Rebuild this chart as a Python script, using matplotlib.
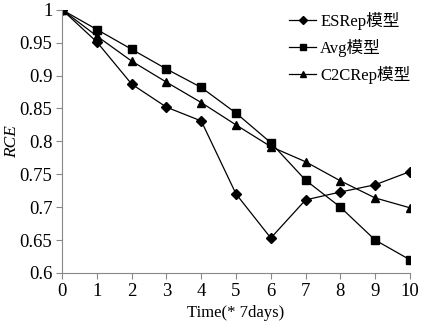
import matplotlib
matplotlib.use("Agg")
import matplotlib.pyplot as plt

plt.rcParams['font.family'] = ['Liberation Serif', 'Noto Sans CJK SC']

# data
weeks = [0, 1, 2, 3, 4, 5, 6, 7, 8, 9, 10]
esrep = [1.0, 0.951, 0.887, 0.852, 0.831, 0.720, 0.653, 0.711, 0.723, 0.734, 0.754]
avg = [1.0, 0.970, 0.940, 0.910, 0.882, 0.843, 0.798, 0.741, 0.700, 0.650, 0.620]
c2crep = [1.0, 0.960, 0.922, 0.890, 0.859, 0.825, 0.792, 0.769, 0.740, 0.714, 0.699]
names = ["ESRep模型", "Avg模型", "C2CRep模型"]

fig = plt.figure(figsize=(4.23, 3.28), dpi=100)
ax = fig.add_axes([0.147, 0.168, 0.822, 0.802])

ax.plot(weeks, esrep, color="black", lw=0.9, marker="D", ms=4.8, label=names[0])
ax.plot(weeks, avg, color="black", lw=0.9, marker="s", ms=5.5, label=names[1])
ax.plot(weeks, c2crep, color="black", lw=0.9, marker="^", ms=6, label=names[2])

ax.set_xlim(0, 10)
ax.set_ylim(0.6, 1.0)
ax.set_xticks(weeks)
ax.set_yticks([0.6, 0.65, 0.7, 0.75, 0.8, 0.85, 0.9, 0.95, 1.0])
ax.set_yticklabels(["0.6", "0.65", "0.7", "0.75", "0.8", "0.85", "0.9", "0.95", "1"])
for s in ["top", "right"]:
    ax.spines[s].set_visible(False)
for s in ["left", "bottom"]:
    ax.spines[s].set_color("#888888")
ax.tick_params(axis="both", direction="out", length=4, color="#888888",
               labelsize=13.5, pad=3)

ax.set_xlabel("Time(* 7days)", fontsize=12, labelpad=4)
ax.set_ylabel("RCE", fontsize=12.5, fontstyle="italic")
ax.yaxis.set_label_coords(-0.12, 0.5)

leg = ax.legend(loc="upper right", bbox_to_anchor=(1.045, 1.05), frameon=False,
                handlelength=1.6, handletextpad=0.25, labelspacing=0.55,
                prop={"size": 12})
for h in leg.legend_handles:
    h.set_markersize(4)

plt.savefig("out.png", dpi=100)
